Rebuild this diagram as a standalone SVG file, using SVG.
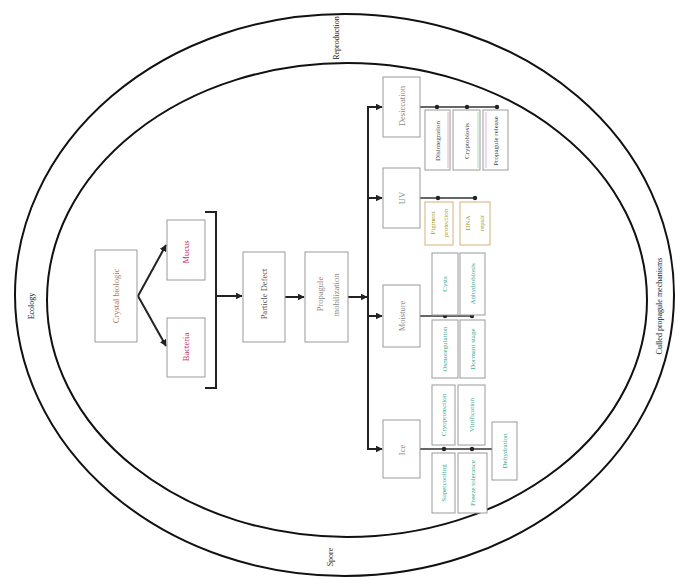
<svg xmlns="http://www.w3.org/2000/svg" width="676" height="580" viewBox="0 0 676 580">
<defs>
<style>
.bx{fill:#fff;stroke:#9a9a9a;stroke-width:1}
.ln{fill:none;stroke:#222;stroke-width:2}
.thin{fill:none;stroke:#333;stroke-width:1.3}
.ell{fill:none;stroke:#111;stroke-width:2}
text{font-family:"Liberation Serif","DejaVu Serif",serif;font-size:7px;text-anchor:middle;dominant-baseline:central}
.big{font-size:8.5px}
.out{font-size:8px;fill:#222}
.brn{fill:#a07868}
.red{fill:#c0306a}
.gry{fill:#555}
.lgr{fill:#888}
.dk{fill:#444}
.olv{fill:#a89a30}
.tl{fill:#35a88e}
.dot{fill:#222}
.tan{fill:#fff;stroke:#d8b07a;stroke-width:1}
</style>
<marker id="ah" viewBox="0 0 10 10" refX="9" refY="5" markerWidth="3.5" markerHeight="3.5" orient="auto">
<path d="M0,0 L10,5 L0,10 z" fill="#222"/>
</marker>
</defs>
<rect width="676" height="580" fill="#fff"/>
<g id="ellipses">
<ellipse class="ell" cx="344.5" cy="295" rx="329.5" ry="281"/>
<ellipse class="ell" cx="347" cy="300" rx="300" ry="237"/>
<text class="out" transform="translate(31,306) rotate(-90)">Ecology</text>
<text class="out" transform="translate(336,38) rotate(-90)">Reproduction</text>
<text class="out" transform="translate(330,557) rotate(-90)">Spore</text>
<text class="out" transform="translate(659,306) rotate(-90)">Culled propagule mechanisms</text>
</g>
<g id="connectors">
<path class="ln" d="M138,296 L166,245" marker-end="url(#ah)"/>
<path class="ln" d="M138,296 L166,346" marker-end="url(#ah)"/>
<path class="ln" d="M205,212 H216 V388 H205"/>
<path class="ln" d="M216,296 H242" marker-end="url(#ah)"/>
<path class="ln" d="M285,297 H304" marker-end="url(#ah)"/>
<path class="ln" d="M348,297 H367" marker-end="url(#ah)"/>
<path class="ln" d="M368,106 V450"/>
<path class="ln" d="M368,107 H382" marker-end="url(#ah)"/>
<path class="ln" d="M368,198 H382" marker-end="url(#ah)"/>
<path class="ln" d="M368,316 H382" marker-end="url(#ah)"/>
<path class="ln" d="M368,449 H382" marker-end="url(#ah)"/>
<path class="thin" d="M420,107 H497"/>
<path class="thin" d="M420,198 H476"/>
<path class="thin" d="M420,316 H473"/>
<path class="thin" d="M420,449 H492"/>
<circle class="dot" cx="437" cy="107" r="2.2"/>
<circle class="dot" cx="467" cy="107" r="2.2"/>
<circle class="dot" cx="497" cy="107" r="2.2"/>
<circle class="dot" cx="438" cy="198" r="2.2"/>
<circle class="dot" cx="475" cy="198" r="2.2"/>
<circle class="dot" cx="445" cy="316" r="2.2"/>
<circle class="dot" cx="472" cy="316" r="2.2"/>
<circle class="dot" cx="444" cy="449" r="2.2"/>
<circle class="dot" cx="472" cy="449" r="2.2"/>
</g>
<g id="n-crystal"><rect class="bx" x="95" y="250" width="42" height="92"/><text class="brn big" transform="translate(116,296) rotate(-90)">Crystal biologic</text></g>
<g id="n-mucus"><rect class="bx" x="167" y="220" width="38" height="60"/><text class="red big" transform="translate(186,252) rotate(-90)">Mucus</text></g>
<g id="n-bacteria"><rect class="bx" x="167" y="318" width="38" height="59"/><text class="red big" transform="translate(186,347) rotate(-90)">Bacteria</text></g>
<g id="n-particle"><rect class="bx" x="243" y="252" width="42" height="90"/><text class="gry big" transform="translate(264,294) rotate(-90)">Particle Defect</text></g>
<g id="n-propagule"><rect class="bx" x="305" y="252" width="43" height="90"/><text class="lgr big" transform="translate(320,294) rotate(-90)">Propagule</text><text class="lgr big" transform="translate(336,295) rotate(-90)">mobilization</text></g>
<g id="n-desiccation"><rect class="bx" x="383" y="77" width="37" height="60"/><text class="lgr big" transform="translate(401.5,106) rotate(-90)">Desiccation</text></g>
<g id="n-uv"><rect class="bx" x="383" y="168" width="37" height="60"/><text class="lgr big" transform="translate(401.5,198) rotate(-90)">UV</text></g>
<g id="n-moisture"><rect class="bx" x="383" y="285" width="37" height="62"/><text class="lgr big" transform="translate(401.5,316) rotate(-90)">Moisture</text></g>
<g id="n-ice"><rect class="bx" x="383" y="420" width="37" height="58"/><text class="lgr big" transform="translate(401.5,450) rotate(-90)">Ice</text></g>
<g id="n-d1"><rect class="bx" x="425" y="110" width="25" height="60"/><line x1="448" y1="112" x2="448" y2="168" stroke="#e0a0b0" stroke-width="0.8"/><text class="dk" transform="translate(437.5,141) rotate(-90)">Disintegration</text></g>
<g id="n-d2"><rect class="bx" x="453" y="110" width="27" height="60"/><line x1="478" y1="112" x2="478" y2="168" stroke="#9fd0a8" stroke-width="0.8"/><text class="dk" transform="translate(466.5,141) rotate(-90)">Cryptobiosis</text></g>
<g id="n-d3"><rect class="bx" x="483" y="110" width="25" height="60"/><line x1="486" y1="112" x2="486" y2="168" stroke="#d0a0c8" stroke-width="0.8"/><text class="dk" transform="translate(495.5,141) rotate(-90)">Propagule release</text></g>
<g id="n-u1"><rect class="tan" x="425" y="202" width="28" height="43"/><text class="olv" transform="translate(433,223) rotate(-90)">Pigment</text><text class="olv" transform="translate(446,223) rotate(-90)">protection</text></g>
<g id="n-u2"><rect class="tan" x="460" y="202" width="30" height="43"/><text class="olv" transform="translate(468,223) rotate(-90)">DNA</text><text class="olv" transform="translate(482,223) rotate(-90)">repair</text></g>
<g id="n-m1"><rect class="bx" x="432" y="253" width="26" height="62"/><text class="tl" transform="translate(445,284) rotate(-90)">Cysts</text></g>
<g id="n-m2"><rect class="bx" x="460" y="253" width="25" height="62"/><text class="tl" transform="translate(472.5,284) rotate(-90)">Anhydrobiosis</text></g>
<g id="n-m3"><rect class="bx" x="432" y="320" width="26" height="58"/><text class="tl" transform="translate(445,349) rotate(-90)">Osmoregulation</text></g>
<g id="n-m4"><rect class="bx" x="460" y="320" width="25" height="58"/><text class="tl" transform="translate(472.5,349) rotate(-90)">Dormant stage</text></g>
<g id="n-i1"><rect class="bx" x="432" y="385" width="23" height="60"/><text class="tl" transform="translate(443.5,415) rotate(-90)">Cryoprotection</text></g>
<g id="n-i2"><rect class="bx" x="458" y="385" width="27" height="60"/><text class="tl" transform="translate(471.5,415) rotate(-90)">Vitrification</text></g>
<g id="n-i3"><rect class="bx" x="432" y="453" width="23" height="60"/><text class="tl" transform="translate(443.5,483) rotate(-90)">Supercooling</text></g>
<g id="n-i4"><rect class="bx" x="458" y="453" width="29" height="60"/><text class="tl" transform="translate(472.5,483) rotate(-90)">Freeze tolerance</text></g>
<g id="n-i5"><rect class="bx" x="492" y="422" width="25" height="58"/><text class="tl" transform="translate(504.5,451) rotate(-90)">Dehydration</text></g>
</svg>
